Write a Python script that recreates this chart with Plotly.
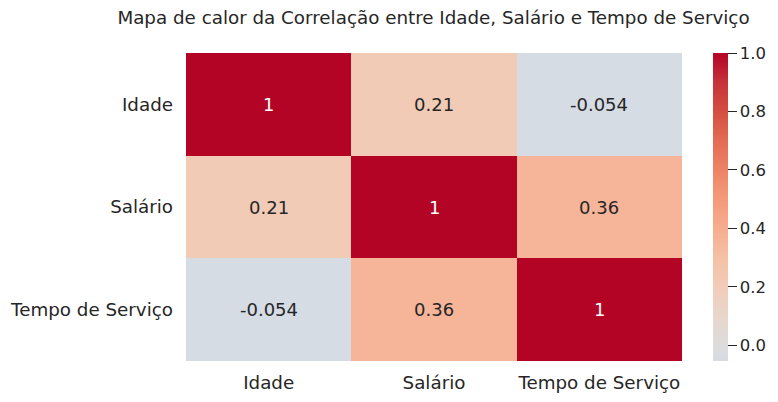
import plotly.graph_objects as go

labels = ["Idade", "Salário", "Tempo de Serviço"]
corr = [[1, 0.21, -0.054],
        [0.21, 1, 0.36],
        [-0.054, 0.36, 1]]
annot = [["1", "0.21", "-0.054"],
         ["0.21", "1", "0.36"],
         ["-0.054", "0.36", "1"]]
title = "Mapa de calor da Correlação entre Idade, Salário e Tempo de Serviço"
cbar_ticks = [0.0, 0.2, 0.4, 0.6, 0.8, 1.0]

# upper half of coolwarm, cut off at the data minimum
zmin = -0.054
zmax = 1.0
stops = [(-0.054, "#d6dce4"), (0.0, "#dddcdc"), (0.1, "#e8d6cc"), (0.2, "#f1ccb8"),
         (0.3, "#f5c0a7"), (0.4, "#f7ac8e"), (0.5, "#f49a7b"), (0.6, "#ed8366"),
         (0.7, "#e36c55"), (0.8, "#d44e41"), (0.9, "#c5333a"), (1.0, "#b40426")]
coolwarm = [[(v - zmin) / (zmax - zmin), c] for v, c in stops]

fig = go.Figure(go.Heatmap(x=labels, y=labels, z=corr, zmin=zmin, zmax=zmax,
                           colorscale=coolwarm, showscale=True,
                           colorbar=dict(thickness=15, len=1, lenmode='fraction',
                                         x=1.0, xanchor='left', xref='paper',
                                         y=0, yanchor='bottom', ypad=0, xpad=31,
                                         outlinewidth=0, tickvals=cbar_ticks,
                                         ticktext=["0.0", "0.2", "0.4", "0.6", "0.8", "1.0"],
                                         ticks='outside', ticklen=9, tickwidth=1.2,
                                         tickcolor='#262626',
                                         tickfont=dict(size=16.5, color='#262626'))))

for i, row in enumerate(annot):
    for j, txt in enumerate(row):
        fig.add_annotation(x=labels[j], y=labels[i], text=txt, showarrow=False,
                           font=dict(size=18, color='white' if corr[i][j] == 1 else '#262626'))

# the page body adds 8px on each side, so the figure is drawn 8px smaller
fig.update_layout(title=dict(text=title, x=425.5 / 770, xanchor='center', y=1 - 10 / 394, yanchor='middle',
                             yref='container', font=dict(size=18.3, color='#262626')),
                  font=dict(family='DejaVu Sans', color='#262626'),
                  width=770, height=394, paper_bgcolor='white', plot_bgcolor='white',
                  margin=dict(l=178, r=96, t=45, b=41, autoexpand=False))
fig.update_xaxes(showgrid=False, zeroline=False, ticks='', tickfont=dict(size=18.3), tickangle=0,
                 ticklabelstandoff=9)
fig.update_yaxes(showgrid=False, zeroline=False, ticks='', tickfont=dict(size=18.3), autorange='reversed',
                 ticklabelstandoff=12)

fig.write_html("out.html")
